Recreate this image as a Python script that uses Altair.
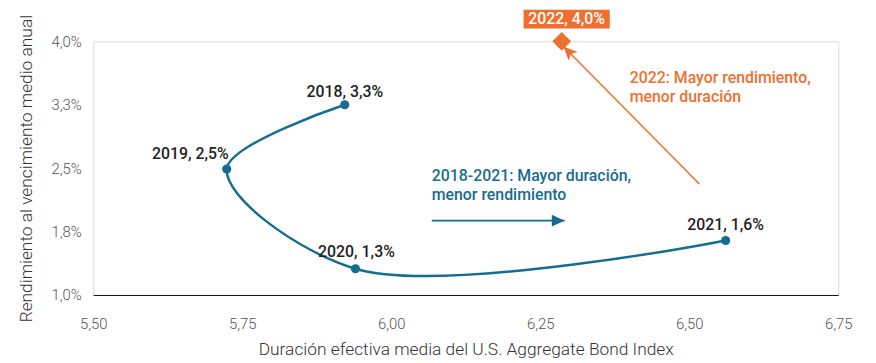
import altair as alt
import pandas as pd

# --- data ---
years = [2018, 2019, 2020, 2021]
duration = [5.922, 5.724, 5.940, 6.561]
yields = [3.25, 2.49, 1.31, 1.645]
labels = ["2018, 3,3%", "2019, 2,5%", "2020, 1,3%", "2021, 1,6%"]

year_2022 = [2022]
duration_2022 = [6.286]
yield_2022 = [4.0]
label_2022 = ["2022, 4,0%"]

x_ticks = [5.5, 5.75, 6.0, 6.25, 6.5, 6.75]
y_ticks = [1.0, 1.75, 2.5, 3.25, 4.0]

# annotation anchors (data coordinates)
teal_note = ["2018-2021: Mayor duración,\nmenor rendimiento"]
teal_note_x = [6.068]
teal_note_y = [2.348]
teal_arrow_x = [6.068]
teal_arrow_x2 = [6.291]
teal_arrow_y = [1.879]

orange_note = ["2022: Mayor rendimiento,\nmenor duración"]
orange_note_x = [6.400]
orange_note_y = [3.508]
orange_arrow_x = [6.517]
orange_arrow_y = [2.313]
orange_arrow_x2 = [6.289]
orange_arrow_y2 = [3.94]

TEAL = "#176c91"
ORANGE = "#ef6f2e"
FONT = "Roboto"

df = pd.DataFrame({"year": years, "duration": duration, "yield": yields, "label": labels})
df22 = pd.DataFrame({"year": year_2022, "duration": duration_2022, "yield": yield_2022, "label": label_2022})
teal_txt = pd.DataFrame({"x": teal_note_x, "y": teal_note_y, "t": teal_note})
teal_arr = pd.DataFrame({"x": teal_arrow_x, "x2": teal_arrow_x2, "y": teal_arrow_y})
orange_txt = pd.DataFrame({"x": orange_note_x, "y": orange_note_y, "t": orange_note})
orange_arr = pd.DataFrame({"x": orange_arrow_x, "y": orange_arrow_y,
                           "x2": orange_arrow_x2, "y2": orange_arrow_y2})

xscale = alt.Scale(domain=[x_ticks[0], x_ticks[-1]], nice=False, zero=False)
yscale = alt.Scale(domain=[y_ticks[0], y_ticks[-1]], nice=False, zero=False)

x_enc = alt.X(
    "duration:Q", scale=xscale,
    title="Duración efectiva media del U.S. Aggregate Bond Index",
    axis=alt.Axis(values=x_ticks, labelExpr="replace(format(datum.value, '.2f'), '.', ',')",
                  ticks=False, grid=False, domain=True, domainColor="#111", domainWidth=1,
                  labelFlush=False, labelOverlap=False,
                  labelPadding=22, labelFontSize=15, labelColor="#555", labelFont=FONT,
                  labelFontWeight=300, titleFont=FONT, titleFontSize=17.5, titleFontWeight=300,
                  titleColor="#333", titlePadding=9),
)
y_enc = alt.Y(
    "yield:Q", scale=yscale,
    title="Rendimiento al vencimiento medio anual",
    axis=alt.Axis(values=y_ticks, labelExpr="replace(format(datum.value, '.1f'), '.', ',') + '%'",
                  ticks=False, grid=False, domain=False, labelPadding=12, labelFontSize=15,
                  labelFlush=False, labelOverlap=False,
                  labelColor="#555", labelFont=FONT, labelFontWeight=300,
                  titleFont=FONT, titleFontSize=17.5, titleFontWeight=300, titleColor="#333",
                  titlePadding=16),
)

base = alt.Chart(df).encode(x=x_enc, y=y_enc)

line = base.mark_line(color=TEAL, strokeWidth=2.5, interpolate="catmull-rom").encode(
    order="year:O")
pts = base.mark_circle(color=TEAL, size=85, opacity=1)


def point_label(i, align, dx, dy):
    return alt.Chart(df.iloc[[i]]).mark_text(
        align=align, dx=dx, dy=dy, baseline="alphabetic", font=FONT, fontSize=16,
        fontWeight=500, color="#222").encode(x="duration:Q", y="yield:Q", text="label:N")


lab18 = point_label(0, "center", 0, -8)
lab19 = point_label(1, "right", 2, -10)
lab20 = point_label(2, "center", 1, -12)
lab21 = point_label(3, "center", 0, -11)

b22 = alt.Chart(df22).encode(x="duration:Q", y="yield:Q")
diamond = b22.mark_point(shape="diamond", filled=True, color=ORANGE, size=360, opacity=1)
box = b22.mark_point(shape="M-1,-0.2184L1,-0.2184L1,0.2184L-1,0.2184Z", filled=True,
                     color=ORANGE, size=7569, opacity=1, strokeWidth=0,
                     xOffset=5, yOffset=-22.5)
box_txt = b22.mark_text(font=FONT, fontSize=16, fontWeight=500, color="white",
                        baseline="alphabetic", align="center", dx=5, dy=-17).encode(text="label:N")

teal_text = alt.Chart(teal_txt).mark_text(
    align="left", baseline="alphabetic", lineBreak="\n", lineHeight=19, font=FONT,
    fontSize=16, fontWeight=500, color=TEAL).encode(x="x:Q", y="y:Q", text="t:N")
teal_shaft = alt.Chart(teal_arr).mark_rule(color=TEAL, strokeWidth=1.8).encode(
    x="x:Q", x2="x2:Q", y="y:Q")
teal_head = alt.Chart(teal_arr).mark_point(
    shape="M0,0L-0.45,1L0.45,1Z", filled=True, color=TEAL, size=676, angle=90,
    opacity=1, strokeWidth=0).encode(x="x2:Q", y="y:Q")

orange_text = alt.Chart(orange_txt).mark_text(
    align="left", baseline="alphabetic", lineBreak="\n", lineHeight=19, font=FONT,
    fontSize=16, fontWeight=500, color=ORANGE).encode(x="x:Q", y="y:Q", text="t:N")
orange_shaft = alt.Chart(orange_arr).mark_rule(color=ORANGE, strokeWidth=1.5).encode(
    x="x:Q", x2="x2:Q", y="y:Q", y2="y2:Q")
orange_head = alt.Chart(orange_arr).mark_point(
    shape="M0,0L-0.45,1L0,0.75L0.45,1Z", filled=True, color=ORANGE, size=784, angle=316,
    opacity=1, strokeWidth=0).encode(x="x2:Q", y="y2:Q")

chart = alt.layer(
    line, pts, lab18, lab19, lab20, lab21,
    teal_text, teal_shaft, teal_head,
    orange_shaft, orange_head, orange_text,
    diamond, box, box_txt,
).properties(
    width=752, height=256,
    padding={"left": 86, "top": 32, "right": 30, "bottom": 66},
    autosize=alt.AutoSizeParams(type="none"),
).configure_view(stroke=None).configure(background="white")

chart.save("out.html", embed_options={"renderer": "svg", "actions": False})
